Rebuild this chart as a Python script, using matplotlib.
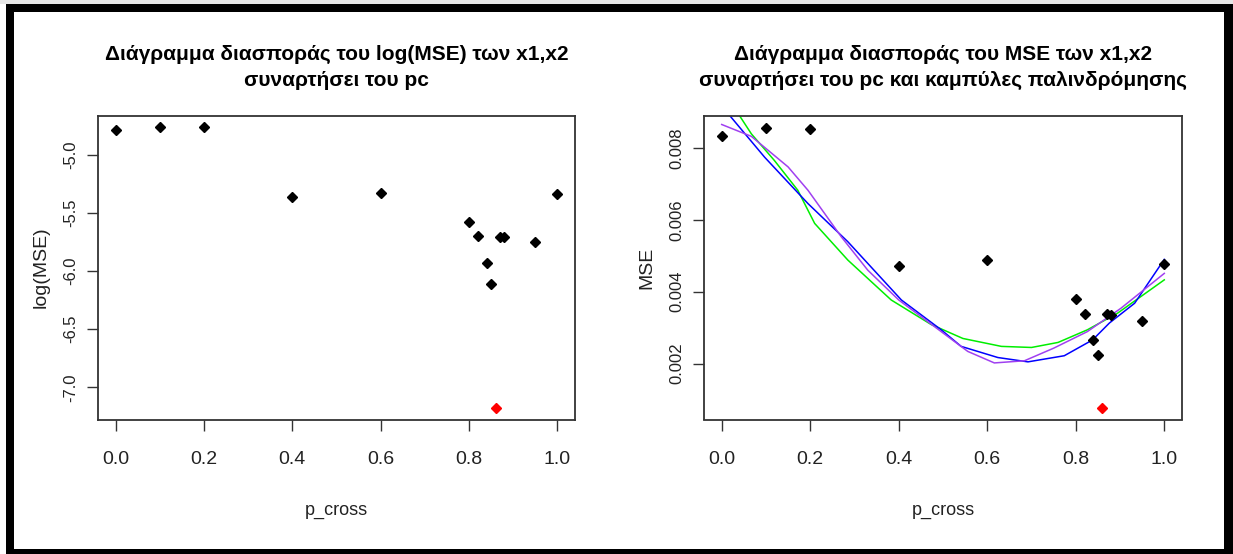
import matplotlib
matplotlib.use("Agg")
import matplotlib.pyplot as plt
from matplotlib.patches import Rectangle
from matplotlib.ticker import FormatStrFormatter

# data
p_cross = [0.0, 0.1, 0.2, 0.4, 0.6, 0.8, 0.82, 0.84, 0.85, 0.87, 0.88, 0.95, 1.0]
log_mse = [-4.79, -4.76, -4.76, -5.36, -5.33, -5.58, -5.70, -5.93, -6.11, -5.71, -5.71, -5.75, -5.34]
mse = [0.00832, 0.00856, 0.00853, 0.00471, 0.00487, 0.00380, 0.00337, 0.00267, 0.00225,
       0.00337, 0.00335, 0.00319, 0.00477]
best_pc = 0.86
best_log_mse = -7.18
best_mse = 0.00077

# regression curves
green_x = [0.0, 0.04, 0.067, 0.119, 0.172, 0.21, 0.285, 0.383, 0.473, 0.545, 0.632, 0.70, 0.76,
           0.826, 0.894, 1.0]
green_y = [0.0097, 0.0089, 0.00839, 0.00765, 0.00682, 0.0059, 0.00488, 0.00377, 0.00309, 0.0027,
           0.00248, 0.00245, 0.00259, 0.00294, 0.0034, 0.00433]
blue_x = [0.0, 0.018, 0.097, 0.195, 0.285, 0.406, 0.496, 0.541, 0.624, 0.692, 0.774, 0.838, 0.876,
          0.933, 1.0]
blue_y = [0.00916, 0.0089, 0.00774, 0.00645, 0.00539, 0.00377, 0.00294, 0.00248, 0.00217, 0.00205,
          0.00222, 0.00266, 0.00313, 0.00368, 0.0049]
purple_x = [0.0, 0.067, 0.15, 0.195, 0.27, 0.33, 0.40, 0.496, 0.556, 0.616, 0.684, 0.75, 0.826,
            0.902, 1.0]
purple_y = [0.00865, 0.00832, 0.00747, 0.00682, 0.00553, 0.0046, 0.00377, 0.00289, 0.00234,
            0.00202, 0.00208, 0.00243, 0.00289, 0.00354, 0.00451]

titles = ["Διάγραμμα διασποράς του log(MSE) των x1,x2\nσυναρτήσει του pc",
          "Διάγραμμα διασποράς του MSE των x1,x2\nσυναρτήσει του pc και καμπύλες παλινδρόμησης"]

font = ["Liberation Sans", "DejaVu Sans"]

fig = plt.figure(figsize=(12.33, 5.54), dpi=100)
W, H = 1233, 554

# frame around the picture
fig.add_artist(Rectangle((0, 1 - 4 / H), 1, 4 / H, transform=fig.transFigure,
                         facecolor="#e6e6e6", edgecolor="none", zorder=-3))
fig.add_artist(Rectangle((6 / W, 0), 1 - 6 / W, 1 - 4 / H, transform=fig.transFigure,
                         facecolor="black", edgecolor="none", zorder=-2))
fig.add_artist(Rectangle((14 / W, 5 / H), (1224 - 14) / W, (549 - 12) / H,
                         transform=fig.transFigure, facecolor="white", edgecolor="none",
                         zorder=-1))

ax1 = fig.add_axes([98 / W, 1 - 419.5 / H, 477 / W, 304 / H])
ax2 = fig.add_axes([704 / W, 1 - 419.5 / H, 478 / W, 304 / H])

ax1.plot(p_cross, log_mse, "D", color="black", ms=5.5)
ax1.plot([best_pc], [best_log_mse], "D", color="red", ms=5.5)
ax1.set_ylim(-7.277, -4.663)
ax1.set_yticks([-5.0, -5.5, -6.0, -6.5, -7.0])
ax1.yaxis.set_major_formatter(FormatStrFormatter("%.1f"))
ax1.set_ylabel("log(MSE)", family=font, fontsize=14, labelpad=10, color="#222222")

ax2.plot(green_x, green_y, color="#00ee00", lw=1.1)
ax2.plot(blue_x, blue_y, color="blue", lw=1.1)
ax2.plot(purple_x, purple_y, color="#a040f0", lw=1.1)
ax2.plot(p_cross, mse, "D", color="black", ms=5.5)
ax2.plot([best_pc], [best_mse], "D", color="red", ms=5.5)
ax2.set_ylim(0.000447, 0.0089)
ax2.set_yticks([0.002, 0.004, 0.006, 0.008])
ax2.yaxis.set_major_formatter(FormatStrFormatter("%.3f"))
ax2.set_ylabel("MSE", family=font, fontsize=14, labelpad=10, color="#222222")

for ax, t in zip([ax1, ax2], titles):
    ax.patch.set_alpha(0)
    ax.set_xlim(-0.04, 1.04)
    ax.set_xticks([0.0, 0.2, 0.4, 0.6, 0.8, 1.0])
    ax.xaxis.set_major_formatter(FormatStrFormatter("%.1f"))
    ax.tick_params(axis="both", direction="out", length=8, width=1, color="#333333")
    ax.tick_params(axis="x", pad=15)
    ax.tick_params(axis="y", pad=6)
    for lab in ax.get_xticklabels():
        lab.set_family(font)
        lab.set_fontsize(14)
        lab.set_color("#222222")
    for lab in ax.get_yticklabels():
        lab.set_family(font)
        lab.set_fontsize(12)
        lab.set_rotation(90)
        lab.set_va("center")
        lab.set_color("#222222")
    for s in ax.spines.values():
        s.set_linewidth(1.3)
        s.set_color("#333333")
    ax.set_xlabel("p_cross", family=font, fontsize=13, labelpad=24, color="#222222")
    ax.set_title(t, family=font, fontsize=15, fontweight="bold", pad=21, linespacing=1.5)

fig.savefig("out.png", dpi=100)
